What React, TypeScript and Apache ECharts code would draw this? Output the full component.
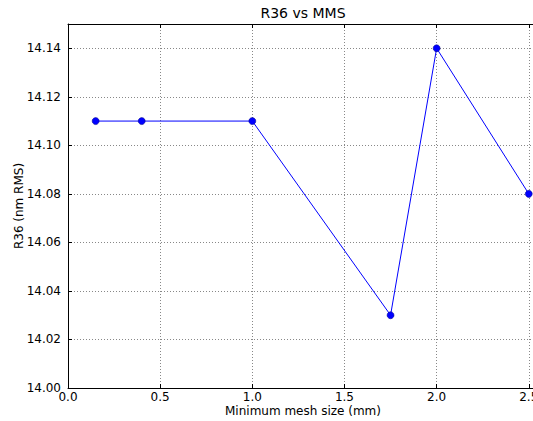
import React, { useEffect, useRef } from "react";
import * as echarts from "echarts";

const meshSizes = [0.15, 0.4, 1.0, 1.75, 2.0, 2.5];
const r36Values = [14.11, 14.11, 14.11, 14.03, 14.14, 14.08];
const xTicks = [0.0, 0.5, 1.0, 1.5, 2.0, 2.5];
const yTicks = [14.0, 14.02, 14.04, 14.06, 14.08, 14.1, 14.12, 14.14];

const FONT = "DejaVu Sans";

export default function App() {
  const ref = useRef<HTMLDivElement>(null);
  useEffect(() => {
    if (!ref.current) return;
    const chart = echarts.init(ref.current, null, { renderer: "svg" });
    const isTick = (v: number, arr: number[]) => arr.some((t) => Math.abs(t - v) < 1e-6);
    const gridStyle = { show: true, lineStyle: { color: "#888", type: [1, 2] as any, width: 1 } };
    chart.setOption({
      animation: false,
      backgroundColor: "#fff",
      grid: {
        left: 68,
        top: 24,
        width: 470,
        height: 364,
        containLabel: false,
        outerBoundsMode: "none",
      },
      xAxis: [
        {
          type: "value",
          min: 0,
          max: 2.55,
          interval: 0.5,
          axisLine: { show: true, onZero: false, lineStyle: { color: "#000", width: 1 } },
          axisTick: { show: true, inside: true, length: 4, lineStyle: { color: "#000" } },
          axisLabel: {
            color: "#000",
            fontFamily: FONT,
            fontSize: 12,
            margin: 3,
            showMaxLabel: false,
            formatter: (v: number) => (isTick(v, xTicks) ? v.toFixed(1) : ""),
          },
          splitLine: gridStyle,
        },
        {
          type: "value",
          position: "top",
          min: 0,
          max: 2.55,
          interval: 0.5,
          axisLine: { show: true, onZero: false, lineStyle: { color: "#000", width: 1 } },
          axisTick: { show: true, inside: true, length: 4, lineStyle: { color: "#000" } },
          axisLabel: { show: false },
          splitLine: { show: false },
        },
      ],
      yAxis: {
        type: "value",
        min: 14.0,
        max: 14.15,
        interval: 0.02,
        axisLine: { show: true, onZero: false, lineStyle: { color: "#000", width: 1 } },
        axisTick: { show: true, inside: true, length: 4, lineStyle: { color: "#000" } },
        axisLabel: {
          color: "#000",
          fontFamily: FONT,
          fontSize: 12,
          margin: 7,
          showMaxLabel: false,
          formatter: (v: number) => (isTick(v, yTicks) ? v.toFixed(2) : ""),
        },
        splitLine: gridStyle,
      },
      graphic: [
        {
          type: "text",
          x: 303,
          y: 13,
          style: {
            text: "R36 vs MMS",
            fontFamily: FONT,
            fontSize: 14,
            fill: "#000",
            align: "center",
            verticalAlign: "middle",
          },
        },
        {
          type: "text",
          x: 303,
          y: 411,
          style: {
            text: "Minimum mesh size (mm)",
            fontFamily: FONT,
            fontSize: 12,
            fill: "#000",
            align: "center",
            verticalAlign: "middle",
          },
        },
        {
          type: "text",
          x: 19,
          y: 206,
          rotation: Math.PI / 2,
          style: {
            text: "R36 (nm RMS)",
            fontFamily: FONT,
            fontSize: 12,
            fill: "#000",
            align: "center",
            verticalAlign: "middle",
          },
        },
      ],
      series: [
        {
          type: "line",
          data: meshSizes.map((x, i) => [x, r36Values[i]]),
          symbol: "circle",
          symbolSize: 7,
          clip: false,
          lineStyle: { color: "#0000ff", width: 1 },
          itemStyle: { color: "#0000ff", borderColor: "#000080", borderWidth: 0.5 },
        },
      ],
    });
    return () => chart.dispose();
  }, []);
  return (
    <div
      ref={ref}
      style={{ position: "absolute", left: 0, top: 0, width: 533, height: 421 }}
    />
  );
}
